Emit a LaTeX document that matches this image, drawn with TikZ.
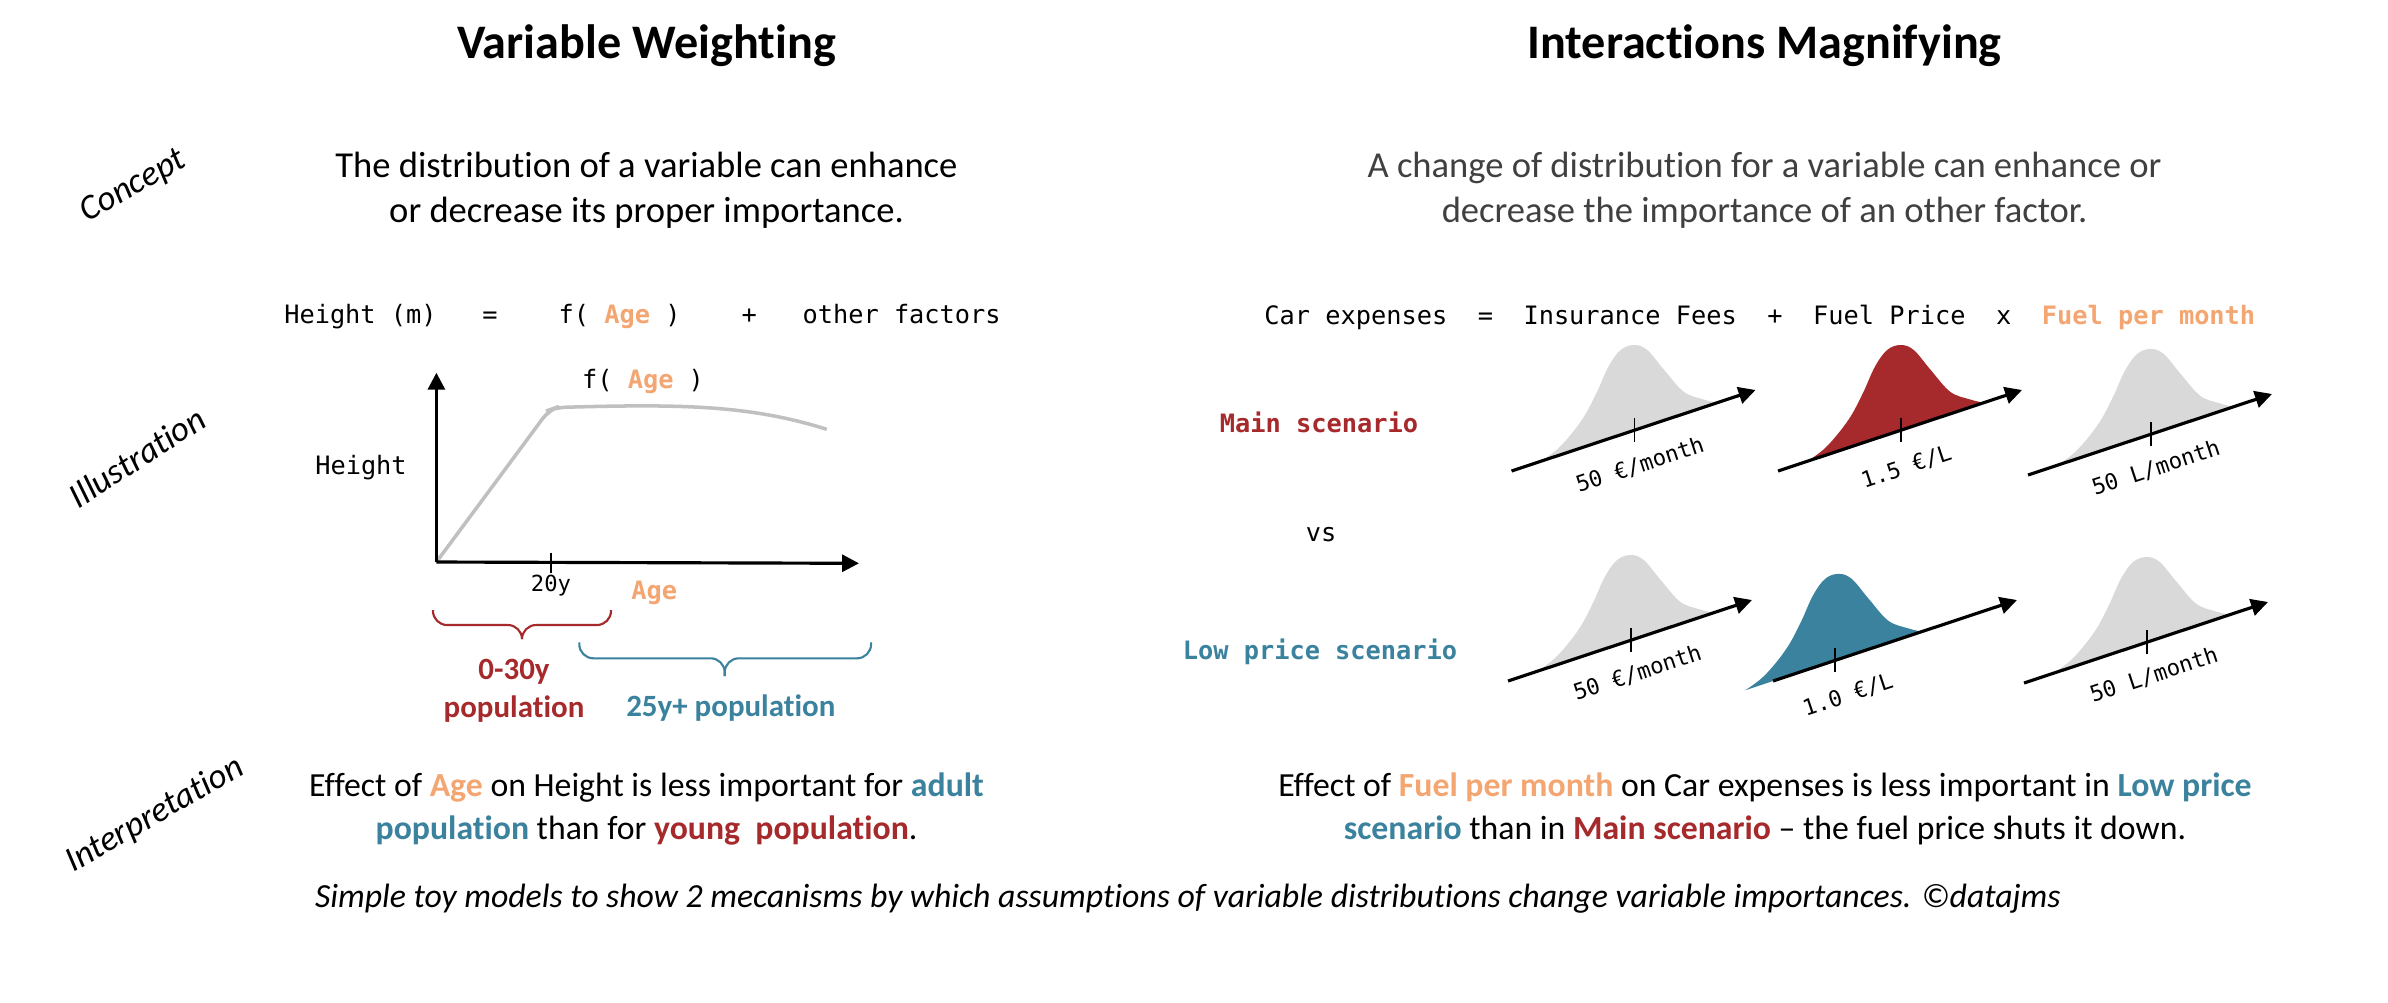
\documentclass[tikz,border=0pt]{standalone}
\usepackage{fontspec}
\setmainfont{Carlito}[Ligatures={TeX,NoCommon}]
\setmonofont{DejaVu Sans Mono}
\usetikzlibrary{arrows.meta}
\definecolor{ageorange}{RGB}{244,166,114}
\definecolor{mainred}{RGB}{166,41,43}
\definecolor{lowteal}{RGB}{58,130,157}
\definecolor{bellgray}{RGB}{217,217,217}
\definecolor{curvegray}{RGB}{192,192,192}
\definecolor{softblack}{RGB}{64,64,64}
\newcommand{\hlt}[2]{\textbf{\textcolor{#1}{#2}}}
\tikzset{
  axisline/.style={black,line width=0.9pt,-{Triangle[length=4.8pt,width=4.8pt]}},
  tickline/.style={black,line width=0.5pt},
  curve/.style={curvegray,line width=1pt},
  bracket/.style={line width=0.6pt,rounded corners=4pt},
  title/.style={inner sep=0pt,font=\fontsize{13.7}{16}\selectfont\bfseries},
  body/.style={inner sep=0pt,align=center,font=\fontsize{10.4}{12.9}\selectfont},
  side/.style={inner sep=0pt,rotate=30,font=\fontsize{10}{12}\selectfont\itshape},
  code/.style={inner sep=0pt,font=\fontsize{7.2}{9}\selectfont\ttfamily},
  axislab/.style={inner sep=0pt,rotate=18.3,font=\fontsize{6.3}{8}\selectfont\ttfamily},
  poplab/.style={inner sep=0pt,align=center,font=\fontsize{8.8}{10.9}\selectfont\bfseries},
}
% one density over a slanted axis: #1 axis start, #2 fill, #3 shift along axis, #4 tick x
\newcommand{\distrib}[4]{%
  \begin{scope}[shift={#1}]
    \fill[#2,shift={(#3,{-0.331*(#3)})}] plot[smooth,tension=0.6] coordinates
      {(29.1,-9.6) (48.5,-24.3) (70.3,-51) (84.8,-77.7) (96.9,-104.3) (109.1,-121)
       (122.6,-126) (135.7,-121) (152.7,-101) (172.1,-79.3) (191.5,-71.7) (206,-68.2)} -- cycle;
    \draw[axisline] (0,0) -- (244,-81);
    \draw[tickline] (#4,{-0.331*(#4)-12}) -- (#4,{-0.331*(#4)+12});
  \end{scope}}

\begin{document}
\begin{tikzpicture}[x=0.01cm,y=-0.01cm]
  \path[use as bounding box,fill=white] (0,0) rectangle (2388,1002);

  \node[title] (tW) at (646.5,46) {Variable Weighting};
  \node[title] (tI) at (1764.5,46) {Interactions Magnifying};

  \node[side] (sC) at (133.5,186.7) {Concept};
  \node[side,rotate=3] (sIl) at (137,457) {Illustration};
  \node[side] (sIn) at (155,815) {Interpretation};

  \node[body] (cL) at (646.5,190.5)
    {The distribution of a variable can enhance\\or decrease its proper importance.};
  \node[body,text=softblack] (cR) at (1764.5,190.5)
    {A change of distribution for a variable can enhance or\\decrease the importance of an other factor.};

  % left: height model
  \node[code] (eqL) at (642.5,317)
    {Height~(m)~~~=~~~~f(~\hlt{ageorange}{Age}~)~~~~+~~~other~factors};
  \coordinate (orig) at (436.4,562);
  \coordinate (ytip) at (436.4,372.7);
  \coordinate (xtip) at (859,563.3);
  \draw[curve,rounded corners=3pt] (orig) -- (495,483) -- (549,410) -- (556,407.5)
    .. controls (680,404) and (750,405) .. (826.7,429.3);
  \draw[axisline] (orig) -- (ytip);
  \draw[axisline] (orig) -- (xtip);
  \draw[tickline] (551.2,552.7) -- (551.2,573.3);
  \node[code] (fA) at (643,381.7) {f(~\hlt{ageorange}{Age}~)};
  \node[code] (yH) at (361,467.7) {Height};
  \node[code,font=\fontsize{6.3}{8}\selectfont\ttfamily] (x20) at (551,586) {20y};
  \node[code] (xA) at (654.3,593.3) {\hlt{ageorange}{Age}};

  \draw[bracket,mainred] (433,610) |- (522,625) -- (522,639);
  \draw[bracket,mainred] (611,610) |- (522,625) -- (522,639);
  \draw[bracket,lowteal] (579.3,642.3) |- (724.7,658.3) -- (724.7,676);
  \draw[bracket,lowteal] (871.1,642.3) |- (724.7,658.3) -- (724.7,676);
  \node[poplab,text=mainred] (pY) at (514,691) {0-30y\\population};
  \node[poplab,text=lowteal] (pA) at (730.8,708.3) {25y+ population};

  % right: car expenses model
  \node[code] (eqR) at (1759.8,317)
    {Car~expenses~~=~~Insurance~Fees~~+~~Fuel~Price~~x~~\hlt{ageorange}{Fuel~per~month}};
  \node[code,text=mainred,font=\fontsize{7.2}{9}\selectfont\ttfamily\bfseries] (sMain) at (1319,422) {Main scenario};
  \node[code] (sVs) at (1321,535) {vs};
  \node[code,text=lowteal,font=\fontsize{7.2}{9}\selectfont\ttfamily\bfseries] (sLow) at (1320,652) {Low price scenario};

  \coordinate (a1) at (1511.5,471);
  \coordinate (a2) at (1778,471);
  \coordinate (a3) at (2028,475);
  \coordinate (a4) at (1508,681);
  \coordinate (a5) at (1773,681);
  \coordinate (a6) at (2024,683);
  \distrib{(a1)}{bellgray}{0}{123}
  \distrib{(a2)}{mainred}{0}{123}
  \distrib{(a3)}{bellgray}{0}{123}
  \distrib{(a4)}{bellgray}{0}{123}
  \distrib{(a5)}{lowteal}{-57}{62}
  \distrib{(a6)}{bellgray}{0}{123}
  \node[axislab] (l1) at (1640,465) {50 €/month};
  \node[axislab] (l2) at (1906.5,467) {1.5 €/L};
  \node[axislab] (l3) at (2156,468) {50 L/month};
  \node[axislab] (l4) at (1637.5,673) {50 €/month};
  \node[axislab] (l5) at (1848,695) {1.0 €/L};
  \node[axislab] (l6) at (2154,675) {50 L/month};

  % interpretations
  \node[body,font=\fontsize{9.6}{12.1}\selectfont] (iL) at (646.5,809)
    {Effect of \hlt{ageorange}{Age} on Height is less important for \hlt{lowteal}{adult}\\
     \hlt{lowteal}{population} than for \hlt{mainred}{young\ \ population}.};
  \node[body,font=\fontsize{9.6}{12.1}\selectfont] (iR) at (1765,809)
    {Effect of \hlt{ageorange}{Fuel per month} on Car expenses is less important in \hlt{lowteal}{Low price}\\
     \hlt{lowteal}{scenario} than in \hlt{mainred}{Main scenario} -- the fuel price shuts it down.};

  \node[body,font=\fontsize{9.6}{12}\selectfont\itshape] (foot) at (1188,899)
    {Simple toy models to show 2 mecanisms by which assumptions of variable distributions change variable importances. ©datajms};
\end{tikzpicture}
\end{document}
